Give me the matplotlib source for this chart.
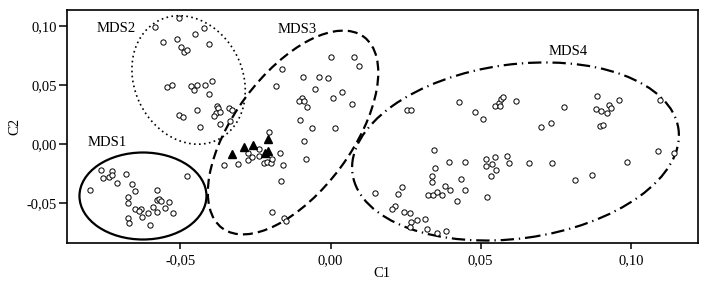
import matplotlib
matplotlib.use('Agg')
import matplotlib.pyplot as plt
import matplotlib.ticker as mticker
from matplotlib.patches import Ellipse
from matplotlib.transforms import ScaledTranslation

plt.rcParams['font.family'] = ['Liberation Serif', 'DejaVu Serif']
plt.rcParams['font.size'] = 10.5

# MDS1 group (open circles)
mds1_x = [-0.0801, -0.0765, -0.0759, -0.0738, -0.0727, -0.0729, -0.0710,
          -0.0682, -0.0662, -0.0652, -0.0674, -0.0675, -0.0650, -0.0632,
          -0.0637, -0.0674, -0.0671, -0.0627, -0.0608, -0.0601, -0.0592,
          -0.0577, -0.0579, -0.0579, -0.0571, -0.0566, -0.0552, -0.0537,
          -0.0526, -0.0479]
mds1_y = [-0.0394, -0.0221, -0.0287, -0.0278, -0.0227, -0.0261, -0.0329,
          -0.0258, -0.0340, -0.0402, -0.0453, -0.0499, -0.0553, -0.0555,
          -0.0572, -0.0632, -0.0669, -0.0623, -0.0584, -0.0691, -0.0533,
          -0.0578, -0.0391, -0.0476, -0.0468, -0.0482, -0.0544, -0.0496,
          -0.0587, -0.0275]

# MDS2 group
mds2_x = [-0.0585, -0.0504, -0.0421, -0.0452, -0.0557, -0.0512, -0.0406,
          -0.0499, -0.0488, -0.0479, -0.0544, -0.0529, -0.0464, -0.0454,
          -0.0444, -0.0418, -0.0396, -0.0406, -0.0446, -0.0504, -0.0490,
          -0.0379, -0.0374, -0.0382, -0.0387, -0.0368, -0.0339, -0.0329,
          -0.0435, -0.0370, -0.0335]
mds2_y = [0.0989, 0.1065, 0.0980, 0.0933, 0.0865, 0.0890, 0.0850,
          0.0822, 0.0782, 0.0793, 0.0482, 0.0502, 0.0487, 0.0459,
          0.0499, 0.0499, 0.0533, 0.0423, 0.0289, 0.0244, 0.0227,
          0.0323, 0.0300, 0.0261, 0.0232, 0.0266, 0.0300, 0.0289,
          0.0142, 0.0170, 0.0193]

# MDS3 group
mds3_x = [-0.0161, -0.0182, 0.0001, 0.0078, 0.0095, -0.0092, -0.0040,
          -0.0010, -0.0052, 0.0037, 0.0009, 0.0070, -0.0095, -0.0104,
          -0.0090, -0.0080, -0.0103, -0.0062, 0.0014, -0.0088, -0.0204,
          -0.0355, -0.0307, -0.0276, -0.0274, -0.0263, -0.0238, -0.0239,
          -0.0221, -0.0213, -0.0200, -0.0196, -0.0169, -0.0160, -0.0164,
          -0.0083, -0.0196, -0.0155, -0.0149]
mds3_y = [0.0639, 0.0491, 0.0737, 0.0737, 0.0663, 0.0563, 0.0569,
          0.0560, 0.0466, 0.0441, 0.0392, 0.0341, 0.0392, 0.0366,
          0.0366, 0.0310, 0.0203, 0.0137, 0.0134, 0.0026, 0.0098,
          -0.0183, -0.0169, -0.0081, -0.0135, -0.0110, -0.0047, -0.0106,
          -0.0160, -0.0154, -0.0160, -0.0132, -0.0081, -0.0177, -0.0316,
          -0.0126, -0.0581, -0.0632, -0.0653]

# filled triangles
tri_x = [-0.0328, -0.0288, -0.0259, -0.0207, -0.0210, -0.0217]
tri_y = [-0.0084, -0.0030, -0.0008, 0.0041, -0.0061, -0.0074]

# MDS4 group
mds4_x = [0.0253, 0.0268, 0.0427, 0.0480, 0.0508, 0.0547, 0.0561, 0.0567,
          0.0573, 0.0564, 0.0617, 0.0345, 0.0394, 0.0447, 0.0349, 0.0519,
          0.0548, 0.0587, 0.0518, 0.0537, 0.0594, 0.0662, 0.0552, 0.0337,
          0.0337, 0.0434, 0.0535, 0.0238, 0.0382, 0.0398, 0.0447, 0.0226,
          0.0147, 0.0325, 0.0342, 0.0353, 0.0371, 0.0420, 0.0520, 0.0213,
          0.0204, 0.0246, 0.0265, 0.0269, 0.0288, 0.0314, 0.0264, 0.0320,
          0.0353, 0.0384, 0.0778, 0.0888, 0.0884, 0.0900, 0.0920, 0.0927,
          0.0933, 0.0962, 0.1099, 0.0700, 0.0733, 0.0897, 0.0908, 0.0739,
          0.0814, 0.0872, 0.0986, 0.1092, 0.1144]
mds4_y = [0.0284, 0.0289, 0.0357, 0.0272, 0.0208, 0.0321, 0.0349, 0.0378,
          0.0397, 0.0321, 0.0363, -0.0053, -0.0157, -0.0157, -0.0208, -0.0129,
          -0.0112, -0.0101, -0.0186, -0.0174, -0.0166, -0.0160, -0.0222, -0.0276,
          -0.0322, -0.0296, -0.0276, -0.0364, -0.0358, -0.0392, -0.0395, -0.0429,
          -0.0415, -0.0435, -0.0437, -0.0409, -0.0435, -0.0486, -0.0452, -0.0528,
          -0.0553, -0.0576, -0.0585, -0.0661, -0.0647, -0.0641, -0.0704, -0.0723,
          -0.0760, -0.0743, 0.0310, 0.0406, 0.0295, 0.0276, 0.0259, 0.0327,
          0.0304, 0.0372, 0.0372, 0.0143, 0.0177, 0.0154, 0.0162, -0.0160,
          -0.0307, -0.0267, -0.0154, -0.0061, -0.0074]

group_names = ['MDS1', 'MDS2', 'MDS3', 'MDS4']
label_x = [-0.0743, -0.0715, -0.0110, 0.0791]
label_y = [0.0014, 0.0983, 0.0971, 0.0782]

# ellipse outlines: centre (data), width/height in pixels, angle
ell_cx = [-0.0625, -0.0473, -0.0125, 0.0616]
ell_cy = [-0.0443, 0.0542, 0.0096, -0.0065]
ell_w = [127, 133, 238, 329]
ell_h = [87, 108, 118, 174]
ell_ang = [0, -63.6, 53.5, 7.8]
ell_ls = ['-', (0, (1.0, 2.0)), (0, (4.5, 2.3)), (0, (6.0, 2.2, 0.6, 2.2))]
ell_lw = [1.6, 1.2, 1.6, 1.6]

fig = plt.figure(figsize=(7.09, 2.83), dpi=100)
ax = fig.add_axes([0.0941, 0.1413, 0.8904, 0.8234])

mk = dict(marker='o', linestyle='none', markersize=3.8,
          markerfacecolor='white', markeredgecolor='black',
          markeredgewidth=0.7)
for xs, ys in [(mds1_x, mds1_y), (mds2_x, mds2_y),
               (mds3_x, mds3_y), (mds4_x, mds4_y)]:
    ax.plot(xs, ys, **mk)
ax.plot(tri_x, tri_y, marker='^', linestyle='none', markersize=6,
        color='black')

for i in range(4):
    tr = fig.dpi_scale_trans + ScaledTranslation(ell_cx[i], ell_cy[i],
                                                 ax.transData)
    e = Ellipse((0, 0), ell_w[i] / 100, ell_h[i] / 100, angle=ell_ang[i],
                transform=tr, fill=False, edgecolor='black',
                linewidth=ell_lw[i], linestyle=ell_ls[i])
    ax.add_patch(e)

for name, x, y in zip(group_names, label_x, label_y):
    ax.text(x, y, name, ha='center', va='center', fontsize=10.5)

ax.set_xlim(-0.0879, 0.1224)
ax.set_ylim(-0.0842, 0.1136)
ax.xaxis.set_major_locator(mticker.FixedLocator([-0.05, 0.0, 0.05, 0.10]))
ax.yaxis.set_major_locator(mticker.FixedLocator([-0.05, 0.0, 0.05, 0.10]))


def comma(v, pos):
    if abs(v) < 1e-9:
        v = 0.0
    return ('%.2f' % v).replace('.', ',')


ax.xaxis.set_major_formatter(mticker.FuncFormatter(comma))
ax.yaxis.set_major_formatter(mticker.FuncFormatter(comma))
ax.tick_params(axis='x', length=4, width=1.1, pad=4, labelsize=10.5)
ax.tick_params(axis='y', length=6, width=1.1, pad=1, labelsize=10.5)
for s in ax.spines.values():
    s.set_linewidth(1.2)

ax.set_xlabel('C1', fontsize=10.5, labelpad=0)
ax.set_ylabel('C2', fontsize=10.5, labelpad=4)

fig.savefig('out.png', dpi=100)
